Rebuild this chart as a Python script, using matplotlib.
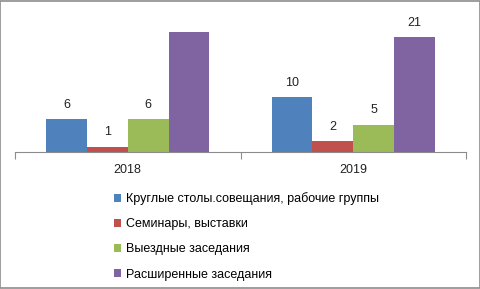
import matplotlib.pyplot as plt
import numpy as np
from matplotlib.patches import Rectangle

# data
years = ['2018', '2019']
series = ['Круглые столы.совещания, рабочие группы', 'Семинары, выставки',
          'Выездные заседания', 'Расширенные заседания']
round_tables = [6, 10]
seminars = [1, 2]
field_sessions = [6, 5]
extended_sessions = [22, 21]
values = [round_tables, seminars, field_sessions, extended_sessions]
colors = ['#4F81BD', '#C0504D', '#9BBB59', '#8064A2']

plt.rcParams['font.family'] = ['Liberation Sans', 'DejaVu Sans']

fig = plt.figure(figsize=(4.81, 2.89), dpi=100)
ax = fig.add_axes([15/481, 1-152/289, 451/481, 142/289])

x = np.arange(len(years))
w = 0.181
for i, (vals, c) in enumerate(zip(values, colors)):
    bars = ax.bar(x + (i - 1.5) * w, vals, w, color=c, label=series[i])
    labels = [str(v) for v in vals]
    if i == 3:
        labels[0] = ''  # label not shown in the reference
    ax.bar_label(bars, labels=labels, padding=6, fontsize=9, color='#222222')

ax.set_xlim(-0.5, 1.5)
ax.set_ylim(0, 26)
ax.set_yticks([])
for s in ['top', 'right', 'left']:
    ax.spines[s].set_visible(False)
ax.spines['bottom'].set_color('#8c8c8c')
ax.set_xticks([-0.5, 0.5, 1.5], minor=False)
ax.set_xticklabels([])
ax.tick_params(axis='x', length=5, color='#8c8c8c', direction='out')
for xi, yr in zip(x, years):
    ax.text(xi, -3.3, yr, ha='center', va='center', fontsize=9, color='#222222')

fig.legend(loc='upper left', bbox_to_anchor=(108/481, 1-186/289), frameon=False,
           fontsize=9, handlelength=0.55, handleheight=0.55, handletextpad=0.4,
           labelspacing=1.05, borderpad=0)

fig.patches.append(Rectangle((0.001, 0.002), 0.997, 0.995, transform=fig.transFigure,
                             fill=False, edgecolor='#8c8c8c', linewidth=1.2))

fig.savefig('out.png', dpi=100)
